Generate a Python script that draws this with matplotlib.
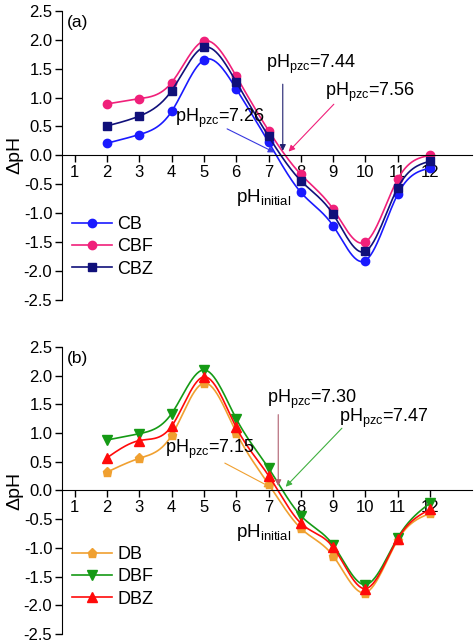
import numpy as np
import matplotlib.pyplot as plt

plt.rcParams.update({'font.family': 'Liberation Sans', 'font.size': 12,
                     'axes.unicode_minus': False})

ph = [2, 3, 4, 5, 6, 7, 8, 9, 10, 11, 12]

# panel (a)
cb = [0.21, 0.36, 0.76, 1.65, 1.15, 0.23, -0.64, -1.22, -1.82, -0.67, -0.22]
cbf = [0.89, 0.98, 1.26, 1.98, 1.37, 0.43, -0.33, -0.93, -1.50, -0.41, 0.00]
cbz = [0.51, 0.68, 1.12, 1.87, 1.27, 0.33, -0.44, -1.02, -1.66, -0.56, -0.10]

# panel (b)
db = [0.32, 0.56, 0.96, 1.87, 1.01, 0.11, -0.66, -1.14, -1.78, -0.86, -0.40]
dbf = [0.88, 0.99, 1.34, 2.10, 1.25, 0.39, -0.44, -0.95, -1.64, -0.82, -0.22]
dbz = [0.57, 0.87, 1.12, 1.98, 1.10, 0.26, -0.57, -0.99, -1.71, -0.84, -0.33]

pzc_a = [7.26, 7.44, 7.56]
pzc_b = [7.15, 7.30, 7.47]
xticks = list(range(1, 13))
yticks = [-2.5, -2.0, -1.5, -1.0, -0.5, 0.0, 0.5, 1.0, 1.5, 2.0, 2.5]


def spline(x, y, n=300):
    # natural cubic spline through the points, for the smooth connecting line
    x = np.asarray(x, float); y = np.asarray(y, float)
    m = len(x); h = np.diff(x)
    A = np.zeros((m, m)); r = np.zeros(m)
    A[0, 0] = A[-1, -1] = 1
    for i in range(1, m - 1):
        A[i, i-1] = h[i-1]; A[i, i] = 2*(h[i-1]+h[i]); A[i, i+1] = h[i]
        r[i] = 3*((y[i+1]-y[i])/h[i] - (y[i]-y[i-1])/h[i-1])
    c = np.linalg.solve(A, r)
    xs = np.linspace(x[0], x[-1], n)
    k = np.clip(np.searchsorted(x, xs) - 1, 0, m - 2)
    t = xs - x[k]
    b = (y[k+1]-y[k])/h[k] - h[k]*(2*c[k]+c[k+1])/3
    d = (c[k+1]-c[k])/(3*h[k])
    return xs, y[k] + b*t + c[k]*t**2 + d*t**3


def setup(ax, label):
    ax.set_xlim(0.61, 13.3)
    ax.set_ylim(-2.5, 2.5)
    ax.spines['top'].set_visible(False)
    ax.spines['right'].set_visible(False)
    ax.spines['bottom'].set_position(('data', 0))
    ax.spines['bottom'].set_bounds(0.61, 13.3)
    ax.set_xticks(xticks)
    ax.set_yticks(yticks)
    ax.set_yticklabels(['%.1f' % v for v in yticks])
    ax.tick_params(direction='out', length=5, width=1, labelsize=12)
    ax.tick_params(axis='x', pad=2)
    ax.tick_params(axis='y', pad=2)
    ax.set_ylabel('ΔpH', fontsize=14, labelpad=0)
    ax.text(6.0, -0.73, '$\\mathregular{pH_{initial}}$', fontsize=13.5, va='center')
    ax.text(0.012, 0.985, label, transform=ax.transAxes, fontsize=12.5, va='top')


def series(ax, y, color, marker, ms, name):
    xs, ys = spline(ph, y)
    ax.plot(xs, ys, color=color, lw=1.2)
    ax.plot(ph, y, ls='none', marker=marker, ms=ms, color=color)
    ax.plot([], [], color=color, marker=marker, ms=ms, lw=1.2, label=name)


def pzc(ax, val, txt_xy, start, color):
    ax.annotate('', xy=(val, 0.03), xytext=start,
                arrowprops=dict(arrowstyle='-|>', color=color, lw=0.8,
                                mutation_scale=9))
    ax.text(txt_xy[0], txt_xy[1], '$\\mathregular{pH_{pzc}}$=%.2f' % val,
            fontsize=13, va='center')


fig = plt.figure(figsize=(4.74, 6.42), dpi=100)
ax1 = fig.add_axes([0.131, 0.533, 0.865, 0.450])
ax2 = fig.add_axes([0.131, 0.0125, 0.865, 0.447])

setup(ax1, '(a)')
series(ax1, cb, '#1a1aff', 'o', 6, 'CB')
series(ax1, cbf, '#f0207a', 'o', 6, 'CBF')
series(ax1, cbz, '#10107a', 's', 5.5, 'CBZ')
pzc(ax1, pzc_a[0], (4.09, 0.64), (5.64, 0.48), '#3838e0')
pzc(ax1, pzc_a[1], (6.93, 1.57), (7.44, 1.28), '#202070')
pzc(ax1, pzc_a[2], (8.75, 1.09), (9.08, 0.92), '#f0207a')
ax1.legend(loc='lower left', bbox_to_anchor=(-0.015, 0.02), frameon=False,
           fontsize=13, handlelength=2.2, handletextpad=0.3, labelspacing=0.3)

setup(ax2, '(b)')
series(ax2, db, '#f0a030', 'p', 6.5, 'DB')
series(ax2, dbf, '#159a15', 'v', 6.5, 'DBF')
series(ax2, dbz, '#ff0a0a', '^', 6.5, 'DBZ')
pzc(ax2, pzc_b[0], (3.78, 0.71), (5.57, 0.50), '#f0a030')
pzc(ax2, pzc_b[1], (6.96, 1.59), (7.30, 1.37), '#b06070')
pzc(ax2, pzc_b[2], (9.18, 1.26), (9.33, 1.12), '#40b040')
ax2.legend(loc='lower left', bbox_to_anchor=(-0.015, 0.035), frameon=False,
           fontsize=13, handlelength=2.2, handletextpad=0.3, labelspacing=0.3)

fig.savefig('out.png', dpi=100)
